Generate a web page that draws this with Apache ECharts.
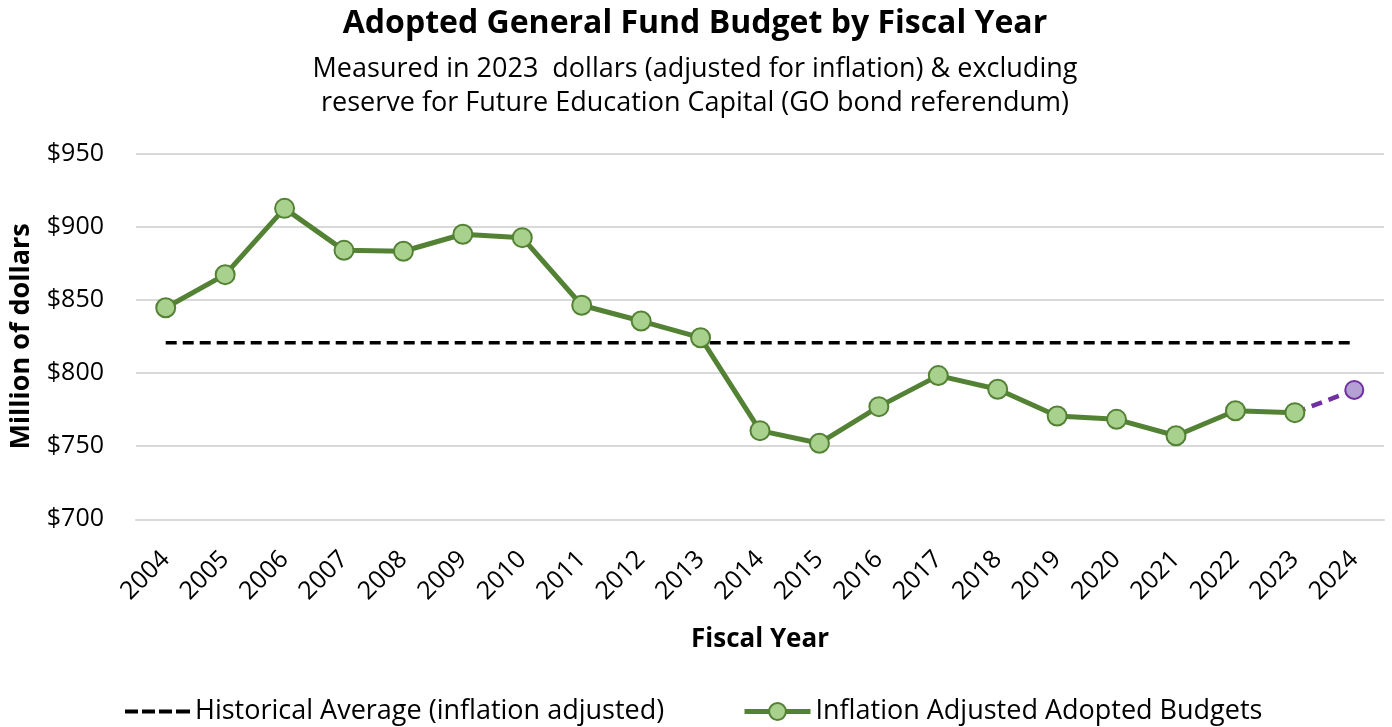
<!DOCTYPE html>
<html>
<head>
<meta charset="utf-8">
<script src="https://cdn.jsdelivr.net/npm/echarts@6/dist/echarts.min.js"></script>
<style>
  html, body { margin: 0; padding: 0; background: #ffffff; }
  #chart { width: 1392px; height: 727px; }
</style>
</head>
<body>
<div id="chart"></div>
<script>
// Fiscal years on the category axis
const years = ['2004','2005','2006','2007','2008','2009','2010','2011','2012','2013',
               '2014','2015','2016','2017','2018','2019','2020','2021','2022','2023','2024'];

// Adopted general fund budgets, millions of 2023 dollars (2004–2023)
const adopted = [844.6, 867.2, 912.5, 883.8, 883.2, 894.8, 892.5, 846.3, 835.5, 824.1,
                 760.6, 752.0, 777.0, 798.2, 788.9, 770.6, 768.3, 757.1, 774.2, 772.9, null];

// Proposed FY2024 budget, drawn from the last adopted year
const proposed = [null, null, null, null, null, null, null, null, null, null,
                  null, null, null, null, null, null, null, null, null, 772.9, 788.4];

// Historical average across the period
const historicalAverage = 820.6;
const averageLine = years.map(() => historicalAverage);

// Value axis ticks
const yMin = 700, yMax = 950, yStep = 50;

const FONT = '"Open Sans", "Noto Sans", sans-serif';
const green = '#548235', greenFill = '#a9d18e';
const purple = '#7030a0', purpleFill = '#b4a0d2';

// Four short dashes used as the legend key of the average line
const dashIcon = 'path://M0,0h13v4h-13z M17,0h13v4h-13z M34,0h13v4h-13z M51,0h14v4h-14z';

const legendText = { fontFamily: FONT, fontSize: 27, color: '#000' };

const chart = echarts.init(document.getElementById('chart'));
chart.setOption({
  backgroundColor: '#ffffff',
  animation: false,
  title: [
    {
      text: 'Adopted General Fund Budget by Fiscal Year',
      left: 690, top: 3, textAlign: 'center',
      textStyle: { fontFamily: FONT, fontSize: 32, fontWeight: 'bold', color: '#000' }
    },
    {
      text: 'Measured in 2023  dollars (adjusted for inflation) & excluding\nreserve for Future Education Capital (GO bond referendum)',
      left: 690, top: 47, textAlign: 'center',
      textStyle: { fontFamily: FONT, fontSize: 27, lineHeight: 34, fontWeight: 'normal', color: '#000' }
    }
  ],
  legend: [
    {
      left: 125, top: 698, padding: 0,
      itemWidth: 65, itemHeight: 4,
      textStyle: legendText,
      data: [{ name: 'Historical Average (inflation adjusted)', icon: dashIcon }]
    },
    {
      left: 742, top: 698, padding: 0,
      itemWidth: 66, itemHeight: 21,
      lineStyle: { width: 5 },
      textStyle: legendText,
      data: ['Inflation Adjusted Adopted Budgets']
    }
  ],
  grid: { left: 135, right: 8, top: 153.5, bottom: 207.7, containLabel: false },
  xAxis: {
    type: 'category',
    data: years,
    boundaryGap: true,
    name: 'Fiscal Year',
    nameLocation: 'middle',
    nameGap: 107,
    nameTextStyle: { fontFamily: FONT, fontSize: 26, fontWeight: 'bold', color: '#000' },
    axisLine: { lineStyle: { color: '#d9d9d9', width: 2 } },
    axisTick: { alignWithLabel: true, inside: true, length: 7, lineStyle: { color: '#d9d9d9', width: 2 } },
    axisLabel: { rotate: 45, margin: 36, fontFamily: FONT, fontSize: 25, color: '#000' }
  },
  yAxis: {
    type: 'value',
    min: yMin, max: yMax, interval: yStep,
    name: 'Million of dollars',
    nameLocation: 'middle',
    nameGap: 101,
    nameRotate: 90,
    nameTextStyle: { fontFamily: FONT, fontSize: 27, fontWeight: 'bold', color: '#000' },
    axisLine: { show: false },
    axisTick: { show: false },
    axisLabel: { margin: 32, fontFamily: FONT, fontSize: 25, color: '#000',
                 formatter: v => '$' + v },
    splitLine: { lineStyle: { color: '#d9d9d9', width: 2 } }
  },
  series: [
    {
      name: 'Historical Average (inflation adjusted)',
      type: 'line',
      data: averageLine,
      symbol: 'none',
      color: '#000',
      lineStyle: { color: '#000', width: 3.5, type: [11, 6] },
      z: 2
    },
    {
      name: 'Proposed',
      type: 'line',
      data: proposed.map((v, i) => i === 19 ? { value: v, symbol: 'none' } : v),
      symbol: 'circle',
      symbolSize: 18,
      lineStyle: { color: purple, width: 4.5, type: [11, 7] },
      itemStyle: { color: purpleFill, borderColor: purple, borderWidth: 2 },
      z: 3
    },
    {
      name: 'Inflation Adjusted Adopted Budgets',
      type: 'line',
      data: adopted,
      symbol: 'circle',
      symbolSize: 19,
      color: greenFill,
      lineStyle: { color: green, width: 5 },
      itemStyle: { color: greenFill, borderColor: green, borderWidth: 2 },
      z: 4
    }
  ]
});
</script>
</body>
</html>
